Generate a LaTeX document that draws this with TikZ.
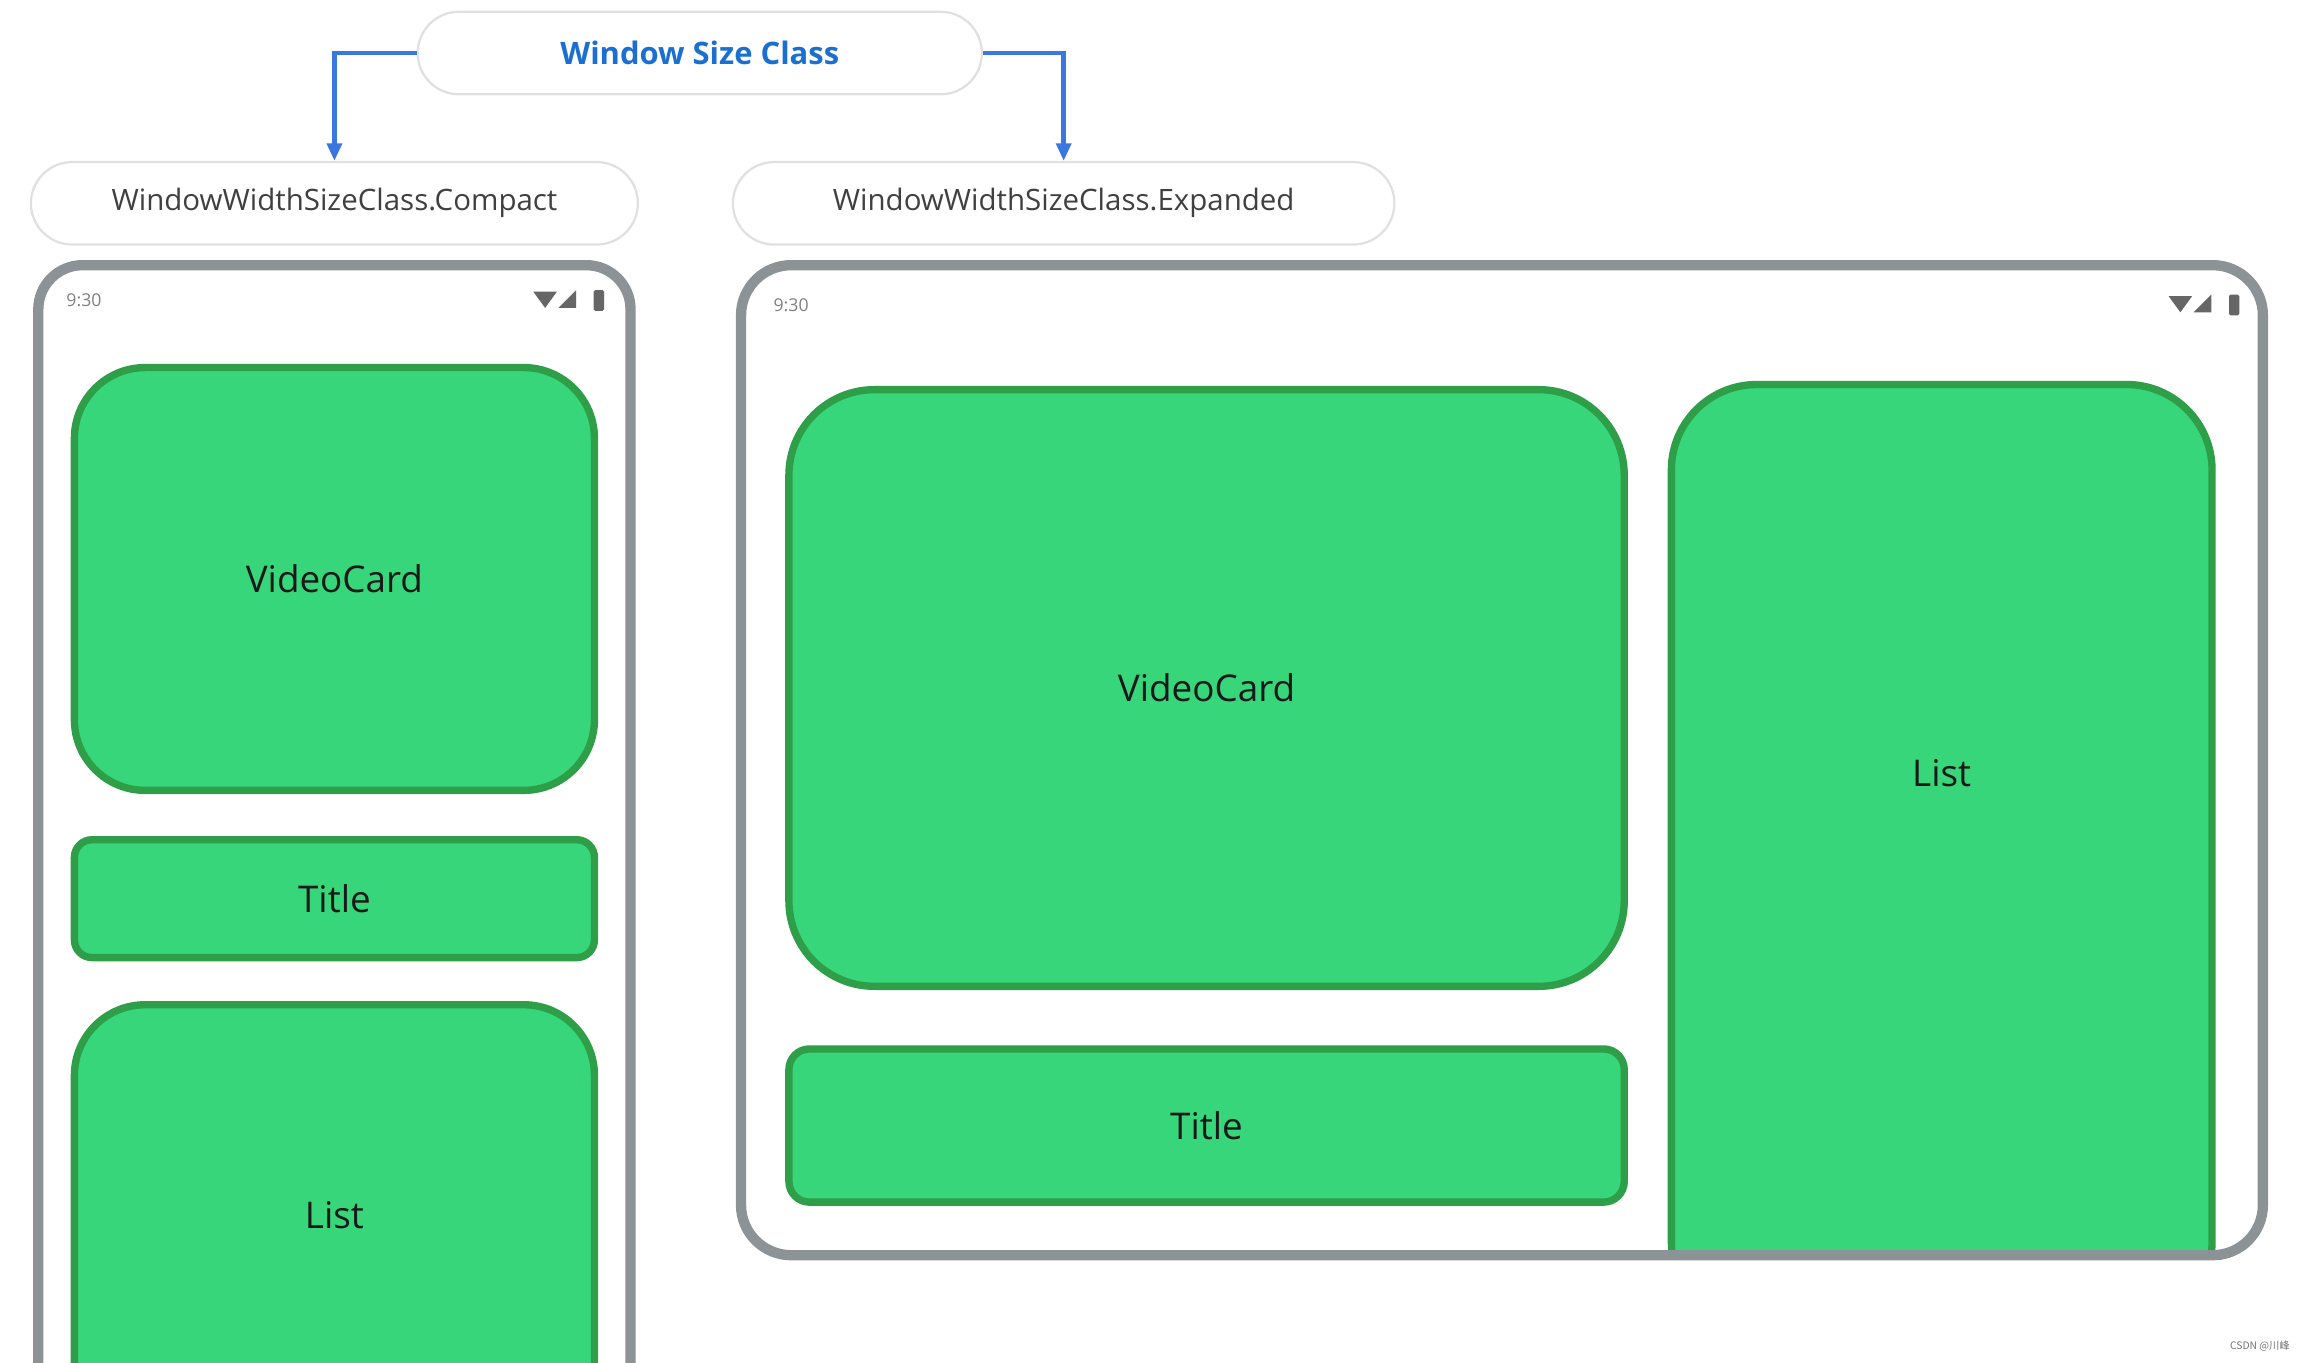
\documentclass[tikz,border=0pt]{standalone}
\usepackage{fontspec}
\setmainfont{Open Sans}
\newfontfamily\cjkf{Noto Sans CJK SC}
\usetikzlibrary{arrows.meta}
\definecolor{gfill}{HTML}{37D67A}
\definecolor{gline}{HTML}{2E9E48}
\definecolor{phone}{HTML}{8C9396}
\definecolor{lblue}{HTML}{1A6FD0}
\definecolor{arr}{HTML}{3A78E0}
\tikzset{
  pill/.style={draw=black!12,line width=1.5pt,fill=white,rounded corners=28pt,inner sep=0pt,font=\fontsize{20}{24}\selectfont,text=black!75},
  card/.style={draw=gline,line width=5pt,fill=gfill,inner sep=0pt,font=\fontsize{25}{30}\selectfont,text=black!90},
  phonef/.style={draw=phone,line width=7pt,fill=white},
  conn/.style={draw=arr,line width=3pt,-{Triangle[length=12pt,width=10pt]}},
  stat/.style={font=\fontsize{12}{14}\selectfont,text=black!50},
  icon/.style={fill=black!60,draw=none}
}
\begin{document}
\begin{tikzpicture}[x=1pt,y=-1pt]
\useasboundingbox[fill=white] (0,0) rectangle (1568,925);
% phones
\draw[phonef,rounded corners=30pt] (26,1000) -- (26,180) -- (428,180) -- (428,1000);
\draw[phonef,rounded corners=34pt] (503,180) rectangle (1536,852);
% status bars
\node[stat] (t1) at (57,204) {9:30};
\node[stat] (t2) at (537,207) {9:30};
\foreach \x/\y in {370/204,1480/207}{
  \fill[icon] (\x-8,\y-6) -- (\x+8,\y-6) -- (\x,\y+5) -- cycle;
  \fill[icon] (\x+9,\y+5) -- (\x+21,\y+5) -- (\x+21,\y-7) -- cycle;
  \fill[icon,rounded corners=1pt] (\x+33,\y-7) rectangle (\x+40,\y+7);
}
% compact cards
\node[card,rounded corners=48pt,minimum width=353pt,minimum height=287pt] (cv) at (227,393) {VideoCard};
\node[card,rounded corners=12pt,minimum width=353pt,minimum height=80pt] (ct) at (227,610) {Title};
\begin{scope}
\clip (0,0) rectangle (1568,925);
\node[card,rounded corners=48pt,minimum width=353pt,minimum height=360pt] (cl) at (227,862) {};
\end{scope}
\node[font=\fontsize{25}{30}\selectfont,text=black!90] at (227,825) {List};
% expanded cards
\node[card,rounded corners=58pt,minimum width=567pt,minimum height=405pt] (ev) at (819,467) {VideoCard};
\node[card,rounded corners=14pt,minimum width=567pt,minimum height=104pt] (et) at (819,764) {Title};
\begin{scope}
\clip (1100,200) rectangle (1540,849);
\node[card,rounded corners=58pt,minimum width=367pt,minimum height=640pt] (el) at (1318,581) {};
\end{scope}
\node[font=\fontsize{25}{30}\selectfont,text=black!90] at (1318,525) {List};
\draw[draw=phone,line width=7pt] (1128,852) -- (1508,852);
% labels
\node[pill,minimum width=383pt,minimum height=56pt,text=lblue,font=\fontsize{21}{25}\selectfont\bfseries] (top) at (475,36) {Window Size Class};
\node[pill,minimum width=412pt,minimum height=56pt] (cmp) at (227,138) {WindowWidthSizeClass.Compact};
\node[pill,minimum width=449pt,minimum height=56pt] (exp) at (722,138) {WindowWidthSizeClass.Expanded};
\draw[conn] (top.west) -| (cmp.north);
\draw[conn] (top.east) -| (exp.north);
\node[font=\cjkf\fontsize{7}{8}\selectfont,text=black!55] (wm) at (1534,914) {CSDN @川峰};
\end{tikzpicture}
\end{document}
